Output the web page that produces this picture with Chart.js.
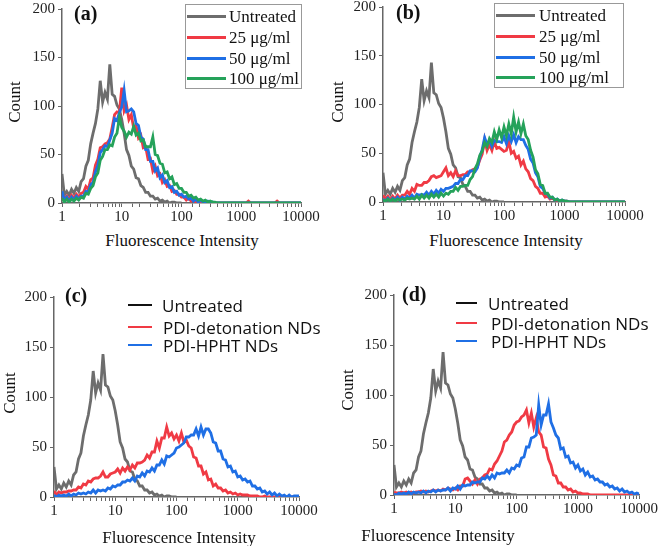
<!DOCTYPE html>
<html><head><meta charset="utf-8">
<script src="https://cdn.jsdelivr.net/npm/chart.js@4.4.0/dist/chart.umd.min.js"></script>
<style>
body{margin:0;background:#fff;width:661px;height:546px;overflow:hidden;position:relative;font-family:"Liberation Serif","Times New Roman",serif;color:#111;}
canvas{position:absolute;}
.c{position:absolute;white-space:nowrap;line-height:1;transform:translate(-50%,-50%);}
.r{position:absolute;white-space:nowrap;line-height:1;transform:translate(-50%,-50%) rotate(-90deg);}
.l{position:absolute;white-space:nowrap;line-height:1;transform:translateY(-50%);}
.ser{font-family:"Liberation Serif","Times New Roman",serif;font-size:17px;}
.pl{font-family:"Liberation Serif",serif;font-weight:bold;font-size:20px;}
.sans{font-family:"Open Sans",sans-serif;font-size:17px;}
.box{position:absolute;border:1px solid #999;box-sizing:border-box;}
.ln{position:absolute;}
</style></head><body>
<canvas id="ca" width="330" height="240" style="left:0;top:-10px"></canvas>
<canvas id="cb" width="331" height="240" style="left:330px;top:-10px"></canvas>
<canvas id="cc" width="330" height="266" style="left:0;top:280px"></canvas>
<canvas id="cd" width="331" height="266" style="left:330px;top:280px"></canvas>

<!-- axis titles -->
<div class="r ser" style="left:14px;top:102px">Count</div>
<div class="r ser" style="left:337px;top:102px">Count</div>
<div class="r ser" style="left:9px;top:393px">Count</div>
<div class="r ser" style="left:347px;top:390px">Count</div>
<div class="c ser" style="left:182px;top:240px">Fluorescence Intensity</div>
<div class="c ser" style="left:506px;top:240px">Fluorescence Intensity</div>
<div class="c ser" style="left:179px;top:537px">Fluorescence Intensity</div>
<div class="c ser" style="left:438px;top:535px">Fluorescence Intensity</div>

<!-- panel labels -->
<div class="l pl" style="left:74px;top:13px">(a)</div>
<div class="l pl" style="left:396px;top:12px">(b)</div>
<div class="l pl" style="left:65px;top:295px">(c)</div>
<div class="l pl" style="left:402px;top:294px">(d)</div>

<div id="legends"></div>

<script>
// ---- data ----
const xTickLabels = [1, 10, 100, 1000, 10000];
const yTickValues = [0, 50, 100, 150, 200];
const xs = [1,1.096,1.202,1.318,1.445,1.585,1.738,1.905,2.089,2.291,2.512,2.754,3.020,3.311,3.631,3.981,4.365,4.786,5.248,5.754,6.310,6.918,7.586,8.318,9.120,
10,10.96,12.02,13.18,14.45,15.85,17.38,19.05,20.89,22.91,25.12,27.54,30.20,33.11,36.31,39.81,43.65,47.86,52.48,57.54,63.10,69.18,75.86,83.18,91.20,
100,109.6,120.2,131.8,144.5,158.5,173.8,190.5,208.9,229.1,251.2,275.4,302.0,331.1,363.1,398.1,436.5,478.6,524.8,575.4,631.0,691.8,758.6,831.8,912.0,
1000,1096,1202,1318,1445,1585,1738,1905,2089,2291,2512,2754,3020,3311,3631,3981,4365,4786,5248,5754,6310,6918,7586,8318,9120,
10000];

const untreated = [30,8,12,8,14,10,16,12,22,25,38,44,61,72,82,97,126,104,114,107,143,112,110,101,97,
86,72,55,49,38,35,26,25,18,16,11,11,7,7,4,5,2,3,1,2,0,1,1,0,0,
0];

const a25 = [10,4,7,3,8,5,9,6,10,11,17,14,24,26,39,45,57,58,61,62,66,78,91,94,93,
119,95,101,86,91,77,80,67,70,57,58,45,46,33,38,28,30,21,24,17,18,12,13,9,9,
6,6,3,5,2,3,1,2,1,1,0,1,0,0,0,0,0,0,0,0,0,0,0,0,0,
0,0,0,2,0,0,0,0,0,0,0,0,0,0,0,2,0,0,0,0,0,0,0,0,0,
0];
const a50 = [12,3,6,2,6,3,7,4,7,7,12,11,19,21,32,39,52,55,59,58,65,72,87,85,93,
99,116,94,95,97,94,82,80,68,66,55,55,43,43,33,36,26,29,21,23,16,17,11,12,8,
9,6,7,4,5,2,4,1,3,1,1,2,0,1,0,0,0,0,0,0,0,0,0,0,0,
0,0,0,0,0,0,0,0,0,0,0,0,0,0,0,0,0,0,0,0,0,0,0,0,0,
0];
const a100 = [5,1,4,1,4,2,5,3,6,5,10,9,15,18,27,31,44,48,55,55,60,59,68,72,88,
78,74,68,73,71,79,70,72,64,65,58,58,58,68,50,49,41,40,31,32,25,27,19,20,15,
15,11,11,7,8,5,6,3,4,2,3,1,2,1,1,0,0,0,0,0,0,0,0,0,0,
0,0,0,0,0,0,0,0,0,0,0,0,0,0,0,0,0,0,0,0,0,0,0,0,0,
0];

const b25 = [7,3,6,2,6,3,7,4,7,7,11,8,14,11,18,17,17,20,20,22,26,27,25,26,27,
31,35,27,30,26,32,27,27,28,28,31,31,33,34,36,43,49,64,53,59,53,62,55,56,54,
52,53,62,50,52,45,47,38,42,34,31,24,22,16,14,9,9,5,6,3,4,2,2,1,1,
1,1,0,0,0,0,0,0,0,0,0,0,0,0,0,0,0,0,0,0,0,0,0,0,0,
0];
const b50 = [3,1,4,1,4,2,5,2,5,3,6,4,7,4,8,7,8,7,10,7,11,8,12,9,13,
11,14,14,15,16,19,19,23,23,27,27,32,32,31,35,46,54,66,59,63,57,63,62,62,61,
67,60,68,62,69,61,67,64,64,58,54,44,40,30,26,16,14,9,8,4,5,2,3,1,2,
1,1,0,0,0,0,0,0,0,0,0,0,0,0,0,0,0,0,0,0,0,0,0,0,0,
0];
const b100 = [2,1,3,1,3,1,3,2,3,2,4,3,4,3,6,3,7,4,7,4,8,5,8,5,9,
6,9,8,11,11,15,12,16,16,17,17,23,26,34,39,48,52,61,57,65,61,72,64,74,66,
77,68,80,70,87,72,82,70,80,68,64,53,46,33,29,18,17,9,9,5,5,2,3,1,2,
1,1,0,0,0,0,0,0,0,0,0,0,0,0,0,0,0,0,0,0,0,0,0,0,0,
0];

const cDet = [6,2,5,4,5,5,6,6,7,7,10,9,13,12,16,15,18,19,19,21,25,20,20,23,24,
25,28,24,29,26,30,27,32,29,34,34,35,37,42,39,45,45,56,49,59,59,70,61,64,58,
62,56,64,55,57,51,49,40,39,31,31,23,25,17,18,11,13,9,9,6,7,4,5,3,4,
2,3,2,2,2,1,1,1,1,0,0,1,0,0,0,0,0,0,0,0,0,0,0,0,0,
0];
const cHPHT = [2,0,2,1,2,1,3,1,3,2,4,3,4,3,5,4,7,4,7,6,7,6,9,8,11,
10,12,12,15,15,17,16,19,16,21,20,24,21,26,25,29,26,32,32,37,33,41,40,42,44,
49,50,52,54,60,60,62,62,68,61,70,62,68,68,64,55,54,46,46,38,37,30,31,25,26,
20,21,17,18,15,16,11,11,8,9,5,6,3,5,2,4,1,3,1,2,0,2,0,1,1,
1];

const dDet = [3,2,2,3,2,3,2,3,2,3,3,4,3,4,3,4,5,4,5,4,6,5,7,6,5,
7,5,9,9,16,17,14,11,15,11,16,17,20,21,26,25,31,34,39,44,53,55,60,63,70,
73,74,78,80,85,72,82,68,77,63,60,48,47,36,30,20,19,12,12,8,8,5,6,3,4,
2,2,1,1,1,0,0,0,0,0,0,0,0,0,0,0,0,0,0,0,0,0,0,0,0,
0];
const dHPHT = [1,0,2,1,2,1,3,1,3,2,3,2,4,2,4,3,5,3,5,4,5,5,7,4,7,
6,9,6,10,9,10,10,13,12,13,13,17,16,19,16,20,17,22,21,22,22,25,22,27,26,
30,29,37,38,48,48,57,58,60,90,70,80,80,91,73,67,60,57,46,47,38,39,32,33,27,
30,24,26,20,23,18,19,15,16,13,13,10,11,8,9,6,7,4,6,3,4,2,3,1,2,
1];

const legendA = ["Untreated", "25 μg/ml", "50 μg/ml", "100 μg/ml"];
const legendC = ["Untreated", "PDI-detonation NDs", "PDI-HPHT NDs"];

// ---- styles ----
const GRAY = '#6d6d6d', RED = '#f03a44', BLUE = '#1f6fe5', GREEN = '#25a25a';
const pts = arr => arr.map((y, i) => ({x: xs[i], y}));
const ds = (arr, color, order) => ({data: pts(arr), borderColor: color, borderWidth: 2.8, pointRadius: 0, tension: 0, order, borderJoinStyle: 'miter'});
const tickFont = {family: 'Liberation Serif', size: 15, lineHeight: 1};

function makeChart(id, datasets, yW, xH, padTop, padRight) {
  new Chart(document.getElementById(id), {
    type: 'line',
    data: {datasets},
    options: {
      responsive: false, animation: false, devicePixelRatio: 1,
      layout: {padding: {top: padTop, right: padRight, left: 0, bottom: 0}},
      plugins: {legend: {display: false}, tooltip: {enabled: false}},
      scales: {
        x: {
          type: 'logarithmic', min: 1, max: 10000,
          afterFit: s => { s.height = xH; },
          ticks: {autoSkip: false, maxRotation: 0, minRotation: 0, padding: 3, color: '#222', font: tickFont,
            callback: v => xTickLabels.includes(v) ? String(v) : ''},
          grid: {display: true, drawOnChartArea: false, drawTicks: true, tickLength: 4, color: '#666', lineWidth: 1},
          border: {display: true, color: '#666', width: 1.5}
        },
        y: {
          min: 0, max: 200,
          afterFit: s => { s.width = yW; },
          afterBuildTicks: s => { s.ticks = yTickValues.map(v => ({value: v})); },
          ticks: {padding: 3, color: '#222', font: tickFont},
          grid: {display: true, drawOnChartArea: false, drawTicks: true, tickLength: 4, color: '#666', lineWidth: 1},
          border: {display: true, color: '#666', width: 1.5}
        }
      }
    }
  });
}

makeChart('ca', [ds(untreated, GRAY, 4), ds(a25, RED, 3), ds(a50, BLUE, 2), ds(a100, GREEN, 1)], 62, 27, 19, 29);
makeChart('cb', [ds(untreated, GRAY, 4), ds(b25, RED, 3), ds(b50, BLUE, 2), ds(b100, GREEN, 1)], 53, 28, 17, 36);
makeChart('cc', [ds(untreated, GRAY, 3), ds(cDet, RED, 2), ds(cHPHT, BLUE, 1)], 54, 49, 17, 31);
makeChart('cd', [ds(untreated, GRAY, 3), ds(dDet, RED, 2), ds(dHPHT, BLUE, 1)], 64, 51, 15, 20);

// ---- legends (HTML text) ----
const L = document.getElementById('legends');
function add(html) { L.insertAdjacentHTML('beforeend', html); }
function boxLegend(bx, by, bw, bh, lx0, lx1, tx, ys) {
  add(`<div class="box" style="left:${bx}px;top:${by}px;width:${bw}px;height:${bh}px"></div>`);
  const cols = [GRAY, RED, BLUE, GREEN];
  legendA.forEach((t, i) => {
    add(`<div class="ln" style="left:${lx0}px;top:${ys[i]-1.5}px;width:${lx1-lx0}px;height:3px;background:${cols[i]}"></div>`);
    add(`<div class="l ser" style="left:${tx}px;top:${ys[i]}px">${t}</div>`);
  });
}
boxLegend(185, 4, 117, 85, 187, 226, 229, [16, 37, 58, 78]);
boxLegend(494, 3, 130, 85, 496, 535, 539, [15, 36, 57, 77]);
function sansLegend(lx0, lx1, txs, ys) {
  const cols = ['#111', RED, BLUE];
  legendC.forEach((t, i) => {
    add(`<div class="ln" style="left:${lx0}px;top:${ys[i]-1}px;width:${lx1-lx0}px;height:2px;background:${cols[i]}"></div>`);
    add(`<div class="l sans" style="left:${txs[i]}px;top:${ys[i]}px">${t}</div>`);
  });
}
sansLegend(128, 152, [162, 163, 163], [305, 327, 345]);
sansLegend(456, 477, [488, 491, 491], [303, 323, 341]);
</script>
</body></html>
